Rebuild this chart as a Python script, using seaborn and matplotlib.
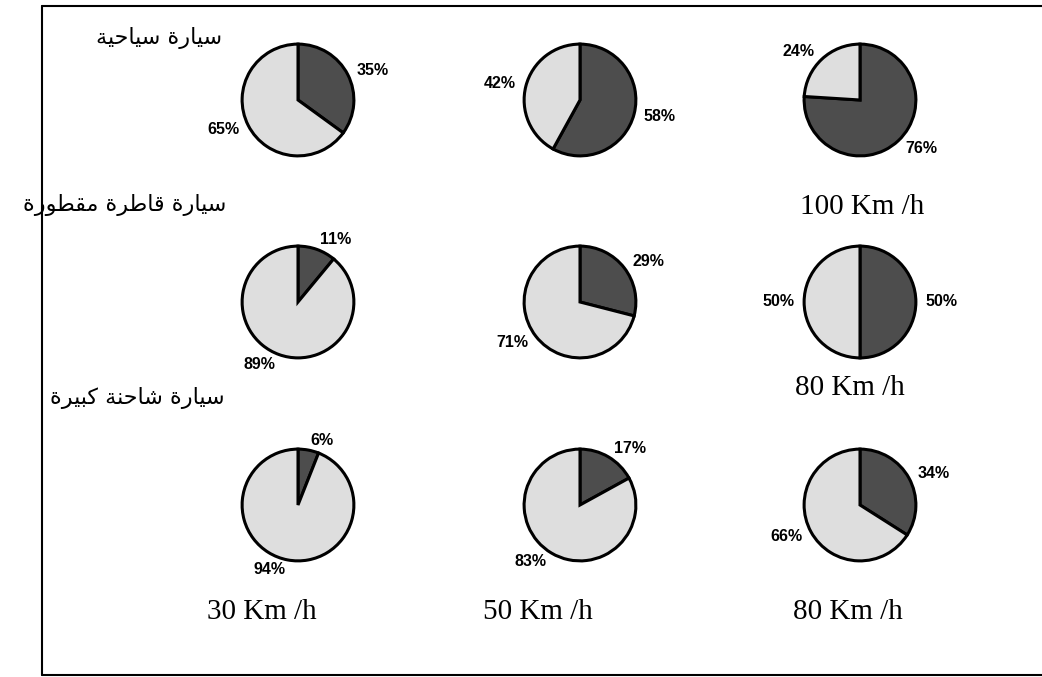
import matplotlib
matplotlib.use("Agg")
import matplotlib.pyplot as plt
from matplotlib.lines import Line2D
import seaborn as sns

# data
vehicles = ["سيارة سياحية", "سيارة قاطرة مقطورة", "سيارة شاحنة كبيرة"]
dark_share = [[35, 58, 76], [11, 29, 50], [6, 17, 34]]
light_share = [[65, 42, 24], [89, 71, 50], [94, 83, 66]]
speed_right = ["100 Km /h", "80 Km /h"]
speed_bottom = ["30 Km /h", "50 Km /h", "80 Km /h"]

# matplotlib does no arabic shaping, so map letters to presentation forms
FORMS = {
    'ا': ('\ufe8d', '\ufe8e', '\ufe8d', '\ufe8e'),
    'ب': ('\ufe8f', '\ufe90', '\ufe91', '\ufe92'),
    'ة': ('\ufe93', '\ufe94', '\ufe93', '\ufe94'),
    'ح': ('\ufea1', '\ufea2', '\ufea3', '\ufea4'),
    'ر': ('\ufead', '\ufeae', '\ufead', '\ufeae'),
    'س': ('\ufeb1', '\ufeb2', '\ufeb3', '\ufeb4'),
    'ش': ('\ufeb5', '\ufeb6', '\ufeb7', '\ufeb8'),
    'ط': ('\ufec1', '\ufec2', '\ufec3', '\ufec4'),
    'ق': ('\ufed5', '\ufed6', '\ufed7', '\ufed8'),
    'ك': ('\ufed9', '\ufeda', '\ufedb', '\ufedc'),
    'م': ('\ufee1', '\ufee2', '\ufee3', '\ufee4'),
    'ن': ('\ufee5', '\ufee6', '\ufee7', '\ufee8'),
    'و': ('\ufeed', '\ufeee', '\ufeed', '\ufeee'),
    'ي': ('\ufef1', '\ufef2', '\ufef3', '\ufef4'),
}
DUAL = set('بحسشطقكمني')


def shape_arabic(text):
    out = []
    for i, ch in enumerate(text):
        if ch not in FORMS:
            out.append(ch)
            continue
        prev = text[i - 1] if i > 0 else ''
        nxt = text[i + 1] if i + 1 < len(text) else ''
        join_prev = prev in DUAL
        join_next = ch in DUAL and nxt in FORMS
        iso, fin, ini, med = FORMS[ch]
        if join_prev and join_next:
            out.append(med)
        elif join_prev:
            out.append(fin)
        elif join_next:
            out.append(ini)
        else:
            out.append(iso)
    return ''.join(reversed(out))


sns.set_theme(style="white")
plt.rcParams['font.family'] = ['Liberation Sans', 'DejaVu Sans']

W, H = 1042, 677
fig = plt.figure(figsize=(W / 100, H / 100), dpi=100)
fig.patch.set_facecolor("white")

colors = ["#4d4d4d", "#dedede"]
col_x = [298, 580, 860]
row_y = [100, 302, 505]
radius = 57

for r in range(3):
    for c in range(3):
        cx, cy = col_x[c], row_y[r]
        ax = fig.add_axes([(cx - radius) / W, (H - cy - radius) / H,
                           2 * radius / W, 2 * radius / H])
        vals = [dark_share[r][c], light_share[r][c]]
        ax.pie(vals, colors=colors, startangle=90, counterclock=False,
               labels=[f"{v}%" for v in vals], labeldistance=1.18,
               wedgeprops=dict(edgecolor="black", linewidth=2.2),
               textprops=dict(fontsize=11.5, fontweight="bold", color="black"))
        ax.set_xlim(-1.02, 1.02)
        ax.set_ylim(-1.02, 1.02)
        ax.set_aspect("equal")
        ax.axis("off")

# vehicle row labels (right aligned, crossing the frame line)
label_y = [38, 205, 398]
label_right = [222, 226, 225]
for name, y, xr in zip(vehicles, label_y, label_right):
    fig.text(xr / W, 1 - y / H, shape_arabic(name), ha="right", va="center",
             fontsize=16, family=['DejaVu Sans'], color="black")

serif = ['Liberation Serif', 'DejaVu Serif']
fig.text(862 / W, 1 - 207 / H, speed_right[0], ha="center", va="center",
         fontsize=21, family=serif, color="black")
fig.text(850 / W, 1 - 388 / H, speed_right[1], ha="center", va="center",
         fontsize=21, family=serif, color="black")
for x, s in zip([262, 538, 848], speed_bottom):
    fig.text(x / W, 1 - 612 / H, s, ha="center", va="center",
             fontsize=21, family=serif, color="black")

# frame of the scanned figure
fig.add_artist(Line2D([42 / W, 1.0], [1 - 6 / H, 1 - 6 / H], color="black", lw=1.5))
fig.add_artist(Line2D([42 / W, 42 / W], [1 - 6 / H, 1 - 675 / H], color="black", lw=1.5))
fig.add_artist(Line2D([42 / W, 1.0], [1 - 675 / H, 1 - 675 / H], color="black", lw=1.5))

fig.savefig("out.png", dpi=100)
